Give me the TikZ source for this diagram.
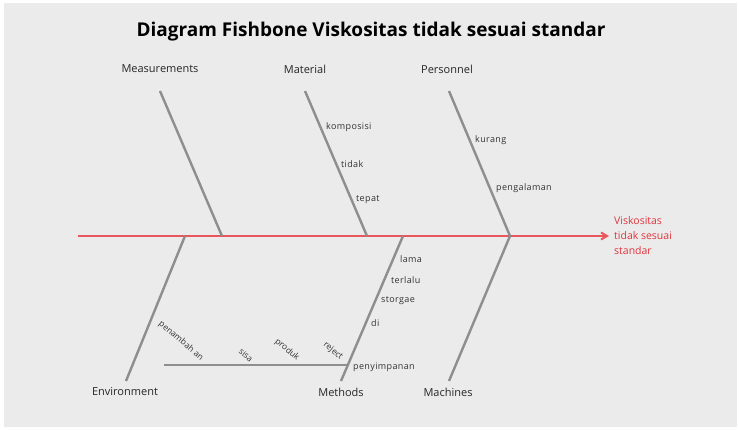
\documentclass[tikz,border=0pt]{standalone}
\usepackage{fontspec}
\setmainfont{Open Sans}
\newfontfamily\spacedfont[LetterSpace=4]{Open Sans}
\usetikzlibrary{arrows.meta}
\definecolor{bg}{HTML}{EBEBEB}
\definecolor{bone}{HTML}{8E8E8E}
\definecolor{spinec}{HTML}{E8575C}
\definecolor{redtxt}{HTML}{E0343C}
\begin{document}
\begin{tikzpicture}[x=1pt,y=-1pt,
  bonel/.style={draw=bone,line width=2.4pt},
  spinel/.style={draw=spinec,line width=2pt},
  cat/.style={font=\fontsize{11}{13}\selectfont,text=black!85,inner sep=0pt},
  sub/.style={font=\spacedfont\fontsize{9}{10}\selectfont,text=black!80,inner sep=0pt,anchor=west},
  rot/.style={font=\fontsize{8.5}{10}\selectfont,text=black!80,inner sep=0pt,rotate=-40},
  eff/.style={font=\fontsize{10.5}{12}\selectfont,text=redtxt,inner sep=0pt,anchor=west}]
\useasboundingbox (0,0) rectangle (739,430);
\fill[white] (0,0) rectangle (739,430);
\fill[bg] (4,3) rectangle (737,427);
% title
\node[font=\bfseries\fontsize{19}{22}\selectfont,inner sep=0pt] (title) at (371,32) {Diagram Fishbone Viskositas tidak sesuai standar};
% spine
\coordinate (tail) at (78,236);
\coordinate (head) at (609,236);
\draw[spinel,-{Straight Barb[length=6pt,width=7pt]}] (tail) -- (head);
\node[eff] (e1) at (614,221) {Viskositas};
\node[eff] (e2) at (614,236) {tidak sesuai};
\node[eff] (e3) at (614,251) {standar};
% bone coordinates
\coordinate (meT) at (160,91);  \coordinate (meB) at (222,236);
\coordinate (maT) at (305,91);  \coordinate (maB) at (367,236);
\coordinate (peT) at (449,91);  \coordinate (peB) at (510,236);
\coordinate (enT) at (185,236); \coordinate (enB) at (126,381);
\coordinate (mtT) at (403,236); \coordinate (mtB) at (341,381);
\coordinate (mcT) at (510,236); \coordinate (mcB) at (449,381);
\coordinate (subL) at (164,365); \coordinate (subR) at (347,365);
\draw[bonel] (meT) -- (meB);
\draw[bonel] (maT) -- (maB);
\draw[bonel] (peT) -- (peB);
\draw[bonel] (enT) -- (enB);
\draw[bonel] (mtT) -- (mtB);
\draw[bonel] (mcT) -- (mcB);
\draw[bonel] (subL) -- (subR);
% categories
\node[cat] (cme) at (160,69) {Measurements};
\node[cat] (cma) at (305,69) {Material};
\node[cat] (cpe) at (447,69) {Personnel};
\node[cat] (cen) at (125,392) {Environment};
\node[cat] (cmt) at (341,392) {Methods};
\node[cat] (cmc) at (448,392) {Machines};
% causes
\node[sub] (s1) at (326,127) {komposisi};
\node[sub] (s2) at (341,164) {tidak};
\node[sub] (s3) at (356,200) {tepat};
\node[sub] (s4) at (475,140) {kurang};
\node[sub] (s5) at (496,188) {pengalaman};
\node[sub] (s6) at (400,259) {lama};
\node[sub] (s7) at (391,280) {terlalu};
\node[sub] (s8) at (381,301) {storgae};
\node[sub] (s9) at (371,323) {di};
\node[sub] (s10) at (353,367) {penyimpanan};
\node[rot] (r1) at (181,341) {penambah an};
\node[rot] (r2) at (246,355) {sisa};
\node[rot] (r3) at (287,350) {produk};
\node[rot] (r4) at (333,351) {reject};
\end{tikzpicture}
\end{document}
